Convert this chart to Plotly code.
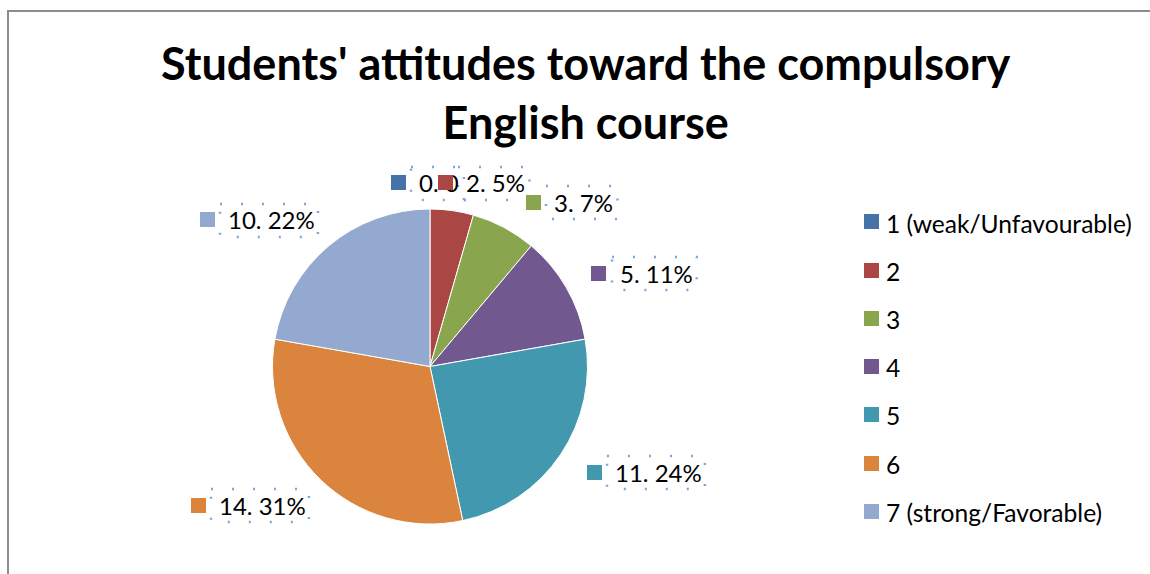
import plotly.graph_objects as go

W, H = 1150, 574

# Survey data: number of students choosing each point of the attitude scale
categories = ["1 (weak/Unfavourable)", "2", "3", "4", "5", "6", "7 (strong/Favorable)"]
counts = [0, 2, 3, 5, 11, 14, 10]
percent_labels = ["0", "5%", "7%", "11%", "24%", "31%", "22%"]
colors = ["#4572A7", "#AA4643", "#89A54E", "#71588F", "#4198AF", "#DB843D", "#93A9CF"]

title_lines = ["Students' attitudes toward the compulsory", "English course"]

FONT = "Lato"
LABEL_SIZE = 24
LEGEND_SIZE = 24.6


def px(x):
    return x / W


def py(y):
    return 1 - y / H


# centre of each data label's key square, in pixels
label_keys = [(398, 183), (445, 183), (533, 202), (599, 273), (594, 472), (198, 505), (207, 220)]
# legend layout
legend_key_x = 871
legend_text_x = 886
legend_top = 222
legend_step = 48.2


def text_width(s):
    # rough advance widths for the label font
    w = 0
    for ch in s:
        if ch.isdigit():
            w += 13.2
        elif ch == ".":
            w += 6.6
        elif ch == " ":
            w += 5.9
        elif ch == "%":
            w += 18.6
        else:
            w += 12
    return w


fig = go.Figure()

fig.add_trace(go.Pie(
    labels=categories,
    values=counts,
    sort=False,
    direction="clockwise",
    rotation=0,
    marker=dict(colors=colors, line=dict(color="#FFFFFF", width=1)),
    textinfo="none",
    hoverinfo="label+value+percent",
    showlegend=False,
    domain=dict(x=[px(272), px(588)], y=[py(524), py(209)]),
))

annotations = []
shapes = []

# outer chart-area frame
shapes.append(dict(type="rect", xref="paper", yref="paper",
                   x0=px(8), y0=py(11), x1=px(1200), y1=py(640),
                   line=dict(color="#8C8C8C", width=2), fillcolor="rgba(0,0,0,0)"))

# title
annotations.append(dict(
    text="<b>" + "<br>".join(title_lines) + "</b>",
    x=px(586), y=py(92), xref="paper", yref="paper",
    xanchor="center", yanchor="middle", showarrow=False,
    font=dict(family=FONT, size=45, color="#000000"),
))

# data label texts with their dotted selection boxes
for (kx, ky), v, p in zip(label_keys, counts, percent_labels):
    txt = f"{v}. {p}"
    tx = kx + 21
    annotations.append(dict(
        text=txt, x=px(tx), y=py(ky), xref="paper", yref="paper",
        xanchor="left", yanchor="middle", showarrow=False,
        borderpad=0, borderwidth=0,
        font=dict(family=FONT, size=LABEL_SIZE, color="#000000"),
    ))
    tw = text_width(txt)
    shapes.append(dict(type="rect", xref="paper", yref="paper",
                       x0=px(tx - 8), x1=px(tx + tw + 6),
                       y0=py(ky - 16), y1=py(ky + 17),
                       line=dict(color="#7FA6DA", width=2.5, dash="2px,19px"),
                       fillcolor="rgba(0,0,0,0)", layer="above"))

# data label key squares (drawn after the texts so they sit on top)
for (kx, ky), c in zip(label_keys, colors):
    annotations.append(dict(
        text=" ", x=px(kx), y=py(ky), xref="paper", yref="paper",
        xanchor="center", yanchor="middle", showarrow=False,
        width=15, height=15, bgcolor=c, borderpad=0, borderwidth=0,
        font=dict(size=2),
    ))

# legend
for i, (cat, c) in enumerate(zip(categories, colors)):
    ly = legend_top + i * legend_step
    annotations.append(dict(
        text=" ", x=px(legend_key_x), y=py(ly), xref="paper", yref="paper",
        xanchor="center", yanchor="middle", showarrow=False,
        width=15, height=15, bgcolor=c, borderpad=0, borderwidth=0,
        font=dict(size=2),
    ))
    annotations.append(dict(
        text=cat, x=px(legend_text_x), y=py(ly + 1), xref="paper", yref="paper",
        xanchor="left", yanchor="middle", showarrow=False,
        borderpad=0, borderwidth=0,
        font=dict(family=FONT, size=LEGEND_SIZE, color="#000000"),
    ))

fig.update_layout(
    width=W, height=H,
    margin=dict(l=0, r=0, t=0, b=0),
    paper_bgcolor="#FFFFFF",
    plot_bgcolor="#FFFFFF",
    showlegend=False,
    annotations=annotations,
    shapes=shapes,
)

fig.write_html("out.html")
